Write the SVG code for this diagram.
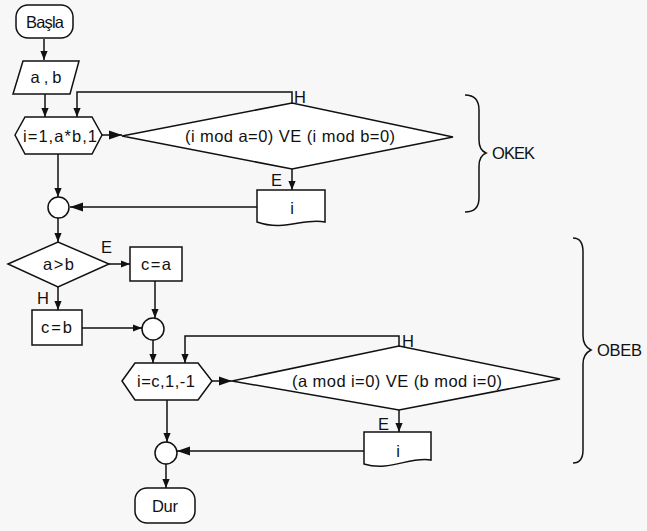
<svg xmlns="http://www.w3.org/2000/svg" width="647" height="531" viewBox="0 0 647 531">
<style>
.s{fill:#fff;stroke:#111;stroke-width:1.5}
.c{fill:none;stroke:#111;stroke-width:1.5}
.t{font-family:"Liberation Sans",Arial,sans-serif;font-size:16.5px;fill:#111;text-anchor:middle;dominant-baseline:central}
.l{font-family:"Liberation Sans",Arial,sans-serif;font-size:16.5px;fill:#111}
</style>
<defs>
<marker id="a" viewBox="0 0 10 10" refX="10" refY="5" markerWidth="9" markerHeight="9" markerUnits="userSpaceOnUse" orient="auto"><path d="M0,1 L10,5 L0,9 Z" fill="#111"/></marker>
<marker id="b" viewBox="0 0 10 10" refX="10" refY="5" markerWidth="13" markerHeight="13" markerUnits="userSpaceOnUse" orient="auto"><path d="M0,1.5 L10,5 L0,8.5 Z" fill="#111"/></marker>
</defs>
<rect width="647" height="531" fill="#f7f7f7"/>
<g id="connectors">
<path class="c" d="M44,39 V60" marker-end="url(#a)"/>
<path class="c" d="M45,94 V117" marker-end="url(#a)"/>
<path class="c" d="M102,135 H122" marker-end="url(#b)"/>
<path class="c" d="M292,103 V92 H77 V117" marker-end="url(#a)"/>
<path class="c" d="M292,169 V190" marker-end="url(#a)"/>
<path class="c" d="M257,207 H70" marker-end="url(#b)"/>
<path class="c" d="M58,154 V197" marker-end="url(#a)"/>
<path class="c" d="M58,218 V242" marker-end="url(#a)"/>
<path class="c" d="M109,264 H130" marker-end="url(#a)"/>
<path class="c" d="M58,287 V310" marker-end="url(#a)"/>
<path class="c" d="M155,281 V318" marker-end="url(#a)"/>
<path class="c" d="M82,328 H142" marker-end="url(#a)"/>
<path class="c" d="M153,340 V363" marker-end="url(#a)"/>
<path class="c" d="M212,381 H232" marker-end="url(#b)"/>
<path class="c" d="M399,346 V336 H185 V363" marker-end="url(#a)"/>
<path class="c" d="M399,410 V432" marker-end="url(#a)"/>
<path class="c" d="M364,451 H177" marker-end="url(#b)"/>
<path class="c" d="M167,400 V442" marker-end="url(#a)"/>
<path class="c" d="M166,464 V488" marker-end="url(#a)"/>
<text class="l" x="294" y="103">H</text>
<text class="l" x="271" y="186">E</text>
<text class="l" x="101" y="253">E</text>
<text class="l" x="37" y="304">H</text>
<text class="l" x="402" y="347">H</text>
<text class="l" x="378" y="430">E</text>
</g>
<g id="start"><rect class="s" x="16" y="5" width="57" height="33" rx="12"/><text class="t" x="45" y="22" textLength="38">Başla</text></g>
<g id="input"><path class="s" d="M23,61 H79 L70,94 H13 Z"/><text class="t" x="46" y="77" textLength="31">a , b</text></g>
<g id="loop1"><path class="s" d="M15,135 L25,117 H92 L102,135 L92,154 H25 Z"/><text class="t" x="60" y="136" textLength="74">i=1,a*b,1</text></g>
<g id="cond1"><path class="s" d="M122,136 L292,103 L453,137 L292,169 Z"/><text class="t" x="290" y="136" textLength="210">(i mod a=0) VE (i mod b=0)</text></g>
<g id="out1"><path class="s" d="M257,190 H325 V222 C305,217 285,232 257,222 Z"/><text class="t" x="292" y="208">i</text></g>
<g id="join1"><circle class="s" cx="58.5" cy="207.5" r="10.5"/></g>
<g id="okek"><path class="c" d="M465,95 Q479,95 479,110 V140 Q479,150 486,153 Q479,156 479,166 V198 Q479,212 465,212"/><text class="l" x="492" y="159" textLength="43">OKEK</text></g>
<g id="cmp"><path class="s" d="M8,264 L58,242 L109,264 L58,287 Z"/><text class="t" x="58.5" y="264" textLength="31">a&gt;b</text></g>
<g id="ca"><rect class="s" x="130" y="247" width="52" height="34"/><text class="t" x="156" y="264" textLength="30">c=a</text></g>
<g id="cb"><rect class="s" x="32" y="310" width="50" height="35"/><text class="t" x="56.5" y="327" textLength="31">c=b</text></g>
<g id="join2"><circle class="s" cx="153" cy="329" r="11"/></g>
<g id="loop2"><path class="s" d="M122,381 L135,363 H198 L212,381 L198,400 H135 Z"/><text class="t" x="166" y="381" textLength="58">i=c,1,-1</text></g>
<g id="cond2"><path class="s" d="M232,381 L399,346 L560,379 L399,410 Z"/><text class="t" x="397" y="381" textLength="210">(a mod i=0) VE (b mod i=0)</text></g>
<g id="out2"><path class="s" d="M364,432 H431 V460 C410,456 390,472 364,464 Z"/><text class="t" x="398" y="451">i</text></g>
<g id="join3"><circle class="s" cx="166" cy="453" r="11"/></g>
<g id="obeb"><path class="c" d="M573,238 Q583,238 583,252 V336 Q583,346 591,350 Q583,354 583,364 V450 Q583,463 573,463"/><text class="l" x="597" y="356" textLength="45">OBEB</text></g>
<g id="end"><rect class="s" x="135" y="488" width="60" height="35" rx="12"/><text class="t" x="165" y="506" textLength="26">Dur</text></g>
</svg>
